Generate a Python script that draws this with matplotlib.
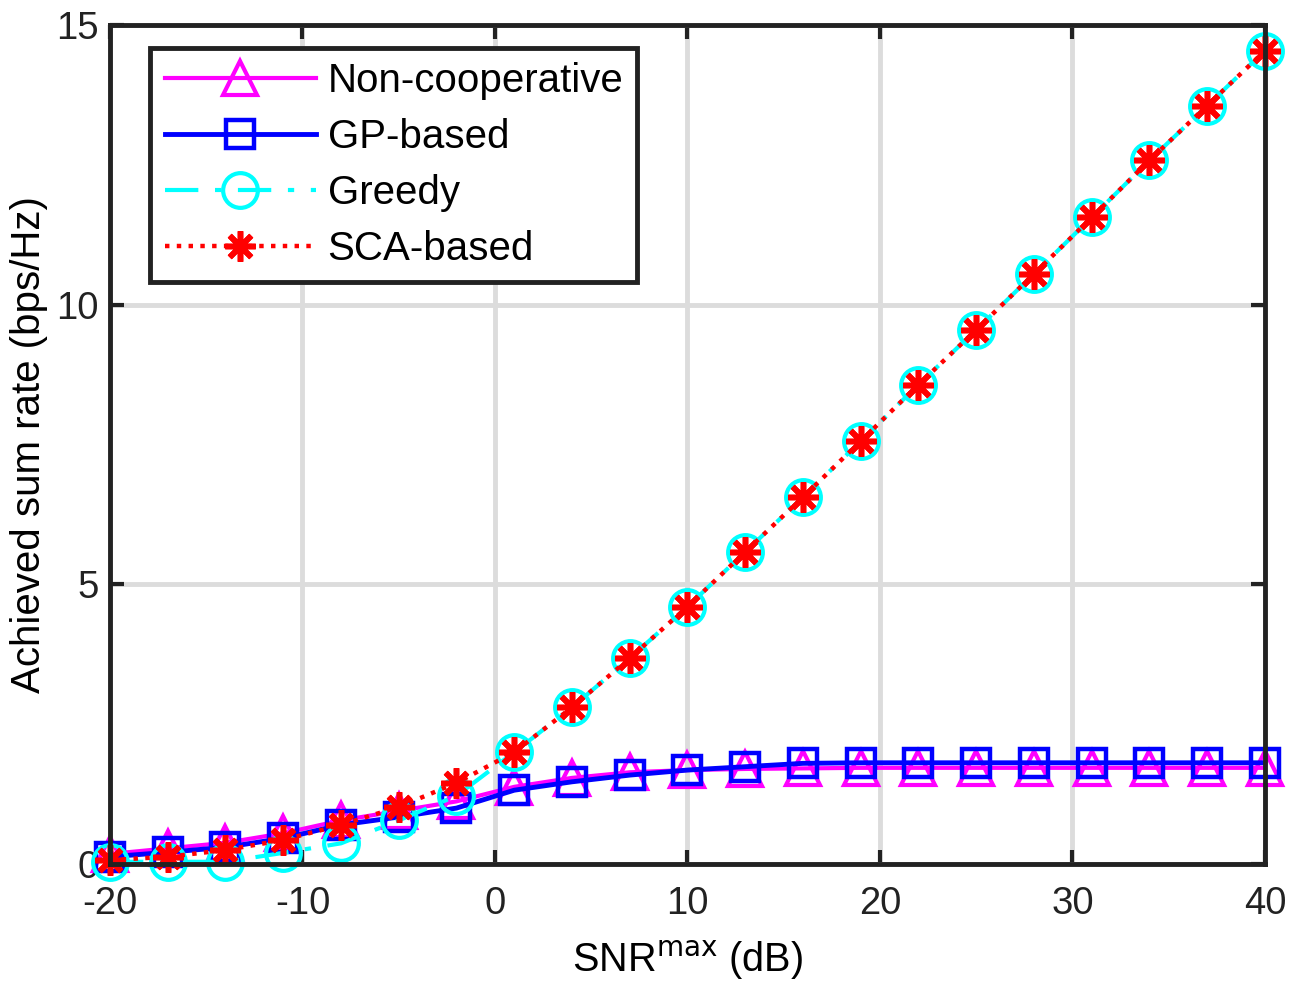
import numpy as np
import matplotlib.pyplot as plt

plt.rcParams['font.family'] = ['Liberation Sans', 'DejaVu Sans']
plt.rcParams['axes.unicode_minus'] = False

snr = np.arange(-20, 41, 3)

non_coop = [0.18, 0.28, 0.38, 0.55, 0.78, 0.95, 1.12, 1.38, 1.54, 1.64, 1.68,
            1.70, 1.71, 1.72, 1.72, 1.72, 1.72, 1.72, 1.72, 1.72, 1.72]
gp_based = [0.13, 0.21, 0.30, 0.46, 0.70, 0.84, 1.00, 1.32, 1.47, 1.59, 1.68,
            1.74, 1.80, 1.81, 1.81, 1.81, 1.81, 1.81, 1.81, 1.81, 1.81]
greedy = [0.04, 0.04, 0.04, 0.20, 0.37, 0.78, 1.22, 2.00, 2.80, 3.68, 4.60,
          5.58, 6.56, 7.56, 8.57, 9.55, 10.55, 11.56, 12.58, 13.56, 14.54]
sca_based = [0.07, 0.13, 0.25, 0.43, 0.70, 1.02, 1.45, 2.00, 2.80, 3.68, 4.60,
             5.58, 6.56, 7.56, 8.57, 9.55, 10.55, 11.56, 12.58, 13.56, 14.54]

fig = plt.figure(figsize=(12.97, 9.92), dpi=100)
ax = fig.add_axes([0.0848, 0.129, 0.8905, 0.8458])

ax.plot(snr, non_coop, '-', color='#FF00FF', lw=3, marker='^', ms=24,
        mfc='none', mew=3, label='Non-cooperative', clip_on=False)
ax.plot(snr, gp_based, '-', color='#0000FF', lw=3.5, marker='s', ms=20,
        mfc='none', mew=3.2, label='GP-based', clip_on=False)
ax.plot(snr, greedy, '-.', color='#00FFFF', lw=3, marker='o', ms=25,
        mfc='none', mew=3, label='Greedy', dashes=(8, 4, 1.5, 4), clip_on=False)
# 8-armed asterisk like MATLAB's '*'
ax.plot(snr, sca_based, ':', color='#FF0000', lw=3.2, marker=(8, 2, 0), ms=22,
        mew=4, label='SCA-based', clip_on=False)

ax.set_xlim(-20, 40)
ax.set_ylim(0, 15)
ax.set_xticks(np.arange(-20, 41, 10))
ax.set_yticks([0, 5, 10, 15])
ax.grid(True, color='#DCDCDC', lw=3.5)
ax.set_axisbelow(True)
ax.tick_params(direction='in', length=10, width=3, labelsize=27.5,
               top=True, right=True, colors='#222222')
ax.tick_params(axis='x', pad=16)
ax.tick_params(axis='y', pad=8)
for s in ax.spines.values():
    s.set_linewidth(3.5)
    s.set_color('#222222')

ax.set_xlabel(r'SNR$^{\mathrm{max}}$ (dB)', fontsize=28.5, labelpad=12)
ax.set_ylabel('Achieved sum rate (bps/Hz)', fontsize=29, labelpad=6)

leg = ax.legend(loc='upper left', bbox_to_anchor=(0.035, 0.973), fontsize=29,
                handlelength=3.75, handletextpad=0.3, borderpad=0.35,
                labelspacing=0.45, borderaxespad=0,
                fancybox=False, framealpha=1, edgecolor='#222222')
leg.get_frame().set_linewidth(3.5)

fig.savefig('out.png', dpi=100)
